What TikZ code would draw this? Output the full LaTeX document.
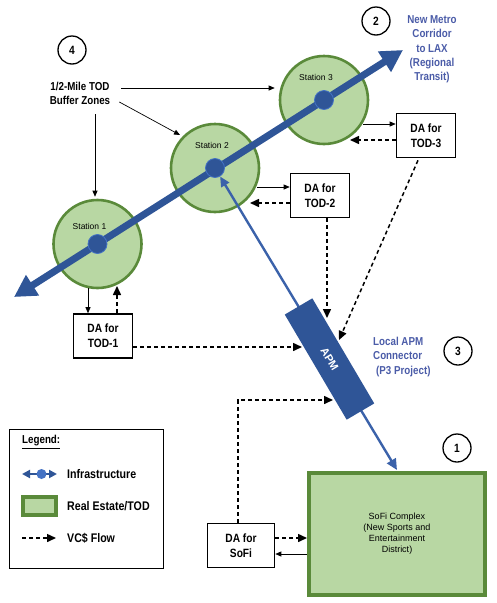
\documentclass[tikz,border=0pt]{standalone}
\usepackage{fontspec}
\setmainfont{Liberation Sans}
\newfontfamily\narrow{Liberation Sans}[FakeStretch=0.85]
\usetikzlibrary{arrows.meta,calc}
\definecolor{lgreen}{HTML}{B8D7A3}
\definecolor{tgreen}{HTML}{5A8A3A}
\definecolor{mblue}{HTML}{2F5597}
\definecolor{dotrim}{HTML}{4472C4}
\definecolor{lblue}{HTML}{3B62AA}
\definecolor{tblue}{HTML}{4B5CA8}
\begin{document}
\begin{tikzpicture}[x=1pt,y=-1pt,
  station/.style={circle, draw=tgreen, fill=lgreen, line width=2.6pt, minimum size=88pt, inner sep=0pt},
  dotnode/.style={circle, fill=mblue, draw=dotrim, line width=0.8pt, minimum size=19pt, inner sep=0pt},
  stlabel/.style={font=\fontsize{8.5}{10}\selectfont, inner sep=0pt},
  dabox/.style={draw, line width=1.6pt, fill=white, minimum width=59pt, minimum height=44pt, align=center, inner sep=0pt,
    font=\narrow\bfseries\fontsize{12}{15}\selectfont},
  num/.style={circle, draw, line width=1.3pt, minimum size=28pt, inner sep=0pt, font=\narrow\bfseries\fontsize{12}{14}\selectfont},
  sarr/.style={-{Triangle[length=6pt,width=5pt]}, line width=0.7pt},
  darr/.style={-{Triangle[length=9pt,width=8pt]}, line width=1.5pt, dash pattern=on 4pt off 3pt},
  bluetxt/.style={text=tblue, font=\narrow\bfseries\fontsize{11.5}{14.3}\selectfont, align=center, inner sep=0pt},
  blktxt/.style={font=\narrow\bfseries\fontsize{11.5}{14}\selectfont, align=center, inner sep=2pt},
  legtxt/.style={font=\narrow\bfseries\fontsize{12.5}{14}\selectfont, anchor=west, inner sep=0pt},
  infra/.style={draw=mblue, line width=7pt, {Triangle[length=22pt,width=23pt]}-{Triangle[length=22pt,width=23pt]}},
  apmline/.style={draw=lblue, line width=2.4pt, {Triangle[length=10pt,width=9pt]}-{Triangle[length=11pt,width=10pt]}},
  apmbox/.style={fill=mblue, minimum width=122pt, minimum height=32pt, inner sep=0pt, text=white, font=\bfseries\fontsize{11}{12}\selectfont},
  realest/.style={draw=tgreen, fill=lgreen, line width=4pt, inner sep=0pt}
]
\useasboundingbox (0,0) rectangle (497,603);

% stations
\node[station] (s1) at (97.5,244) {};
\node[station] (s2) at (215,168) {};
\node[station] (s3) at (324,100) {};
\node[stlabel] (l1) at (89.5,226) {Station 1};
\node[stlabel] (l2) at (212,145) {Station 2};
\node[stlabel] (l3) at (316,77) {Station 3};

% metro corridor line
\coordinate (tipW) at (14,297);
\coordinate (tipE) at (403,50);
\draw[infra] (tipW) -- (tipE);
\node[dotnode] (d1) at (s1) {};
\node[dotnode] (d2) at (s2) {};
\node[dotnode] (d3) at (s3) {};

% SoFi complex
\node[realest, minimum width=176pt, minimum height=122pt, align=center,
  font=\fontsize{9}{11}\selectfont] (sofi) at (397,534) {SoFi Complex\\(New Sports and\\Entertainment\\District)};
\coordinate (sofitop) at (397,470);

% APM connector
\draw[apmline] (d2) -- (sofitop);
\node[apmbox, rotate=-59.5] (apm) at (329.5,359) {APM};

% DA boxes
\node[dabox] (da1) at (103,336) {DA for\\TOD-1};
\node[dabox] (da2) at (320,195.5) {DA for\\TOD-2};
\node[dabox] (da3) at (426,135.5) {DA for\\TOD-3};
\node[dabox, minimum width=67pt] (das) at (241,545.5) {DA for\\SoFi};

% numbers
\node[num] (n4) at (72,50) {4};
\node[num] (n2) at (376,21) {2};
\node[num] (n3) at (458,351) {3};
\node[num] (n1) at (457,448) {1};

% texts
\node[blktxt] (buf) at (80,93) {1/2-Mile TOD\\Buffer Zones};
\node[bluetxt] (metro) at (432,49.5) {New Metro\\Corridor\\to LAX\\(Regional\\Transit)};
\node[bluetxt, align=left, anchor=west] (apmtxt) at (373,357) {Local APM\\Connector\\\hspace*{3pt}(P3 Project)};

% buffer arrows
\draw[sarr] ($(buf.east)+(9,-5)$) -- ($(s3.west)+(-4,-12)$);
\draw[sarr] ($(buf.east)+(7,9)$) -- ($(s2)+(-35,-33)$);
\draw[sarr] ($(buf.south)+(15,8)$) -- ($(s1.north)+(-2.5,-2)$);

% station <-> DA
\draw[sarr] ($(s1)+(-9.5,44)$) -- ($(da1.north)+(-15,0)$);
\draw[darr] ($(da1.north)+(14,0)$) -- ($(s1)+(19.5,42)$);
\draw[sarr] ($(s2)+(42,19)$) -- ($(da2.west)+(0,-8.5)$);
\draw[darr] ($(da2.west)+(0,7.5)$) -- ($(s2)+(35,35)$);
\draw[sarr] ($(s3)+(39,24)$) -- ($(da3.west)+(0,-11.5)$);
\draw[darr] ($(da3.west)+(0,4.5)$) -- ($(s3)+(26,40)$);

% value capture flows to APM
\coordinate (apmL) at (302,347);
\coordinate (apmT) at (327,318);
\coordinate (apmR) at (339,340);
\coordinate (apmB) at (333,400);
\draw[darr] ($(da1.east)+(0,11)$) -- (apmL);
\draw[darr] ($(da2.south)+(7,0)$) -- (apmT);
\draw[darr] ($(da3.south)+(-8,2)$) -- (apmR);
\draw[darr] ($(das.north)+(-3,0)$) |- (apmB);

% SoFi <-> DA
\coordinate (dsA) at ($(das.east)+(0,-7.5)$);
\coordinate (dsB) at ($(das.east)+(0,8.5)$);
\draw[darr] (dsA) -- (dsA -| sofi.west);
\draw[sarr] (dsB -| sofi.west) -- (dsB);

% legend
\node[draw, line width=1pt, minimum width=154pt, minimum height=139pt, inner sep=0pt] (leg) at (86,498.5) {};
\node[legtxt, font=\narrow\bfseries\fontsize{11.5}{14}\selectfont] (legt) at (22,442) {\underline{Legend:}};
\coordinate (iw) at (22,474);
\coordinate (ie) at (57,474);
\draw[draw=mblue, line width=2.5pt, {Triangle[length=8pt,width=8pt]}-{Triangle[length=8pt,width=8pt]}] (iw) -- (ie);
\node[circle, fill=dotrim, minimum size=10pt, inner sep=0pt] (idot) at (41.5,474) {};
\node[legtxt] (lt1) at (67,474) {Infrastructure};
\node[realest, minimum width=33pt, minimum height=18pt] (lre) at (39.5,506) {};
\node[legtxt] (lt2) at (67,506) {Real Estate/TOD};
\coordinate (vw) at (22,538);
\coordinate (ve) at (56,538);
\draw[darr] (vw) -- (ve);
\node[legtxt] (lt3) at (67,538) {VC\$ Flow};
\end{tikzpicture}
\end{document}
